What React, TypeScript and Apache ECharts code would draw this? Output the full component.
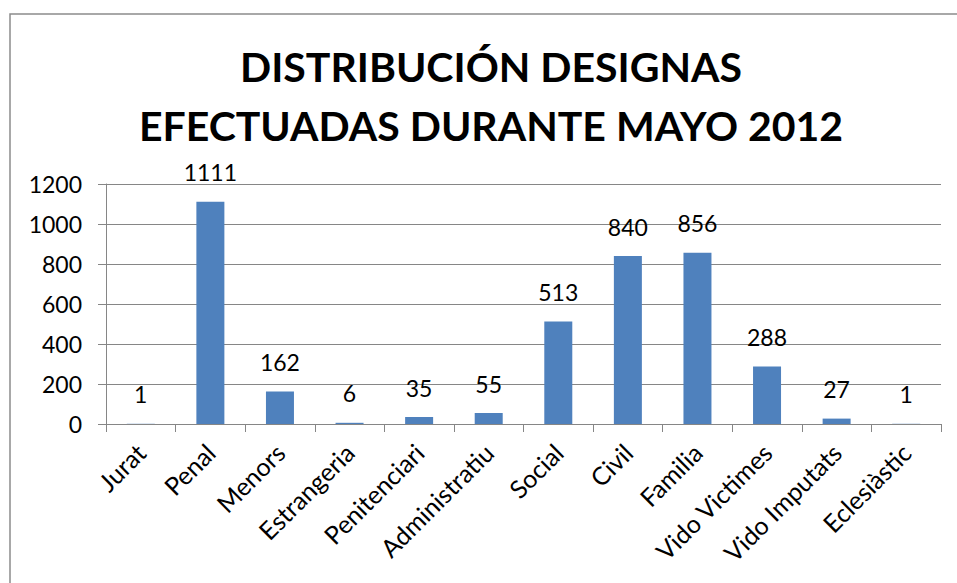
import React, { useEffect, useRef } from "react";
import * as echarts from "echarts";

const categories = [
  "Jurat", "Penal", "Menors", "Estrangeria", "Penitenciari", "Administratiu",
  "Social", "Civil", "Familia", "Vido Victimes", "Vido Imputats", "Eclesiàstic",
];
const values = [1, 1111, 162, 6, 35, 55, 513, 840, 856, 288, 27, 1];
const titleLines = ["DISTRIBUCIÓN DESIGNAS", "EFECTUADAS DURANTE MAYO 2012"];

const FONT = "Lato, 'Open Sans', sans-serif";

export default function App() {
  const ref = useRef<HTMLDivElement>(null);
  useEffect(() => {
    if (!ref.current) return;
    const chart = echarts.init(ref.current, undefined, { renderer: "svg" });
    chart.setOption({
      animation: false,
      backgroundColor: "#ffffff",
      title: {
        text: titleLines.join("\n"),
        left: 486,
        top: 32,
        textAlign: "center",
        textStyle: {
          fontFamily: FONT,
          fontSize: 41,
          fontWeight: "bold",
          color: "#000000",
          lineHeight: 59,
        },
      },
      graphic: [
        {
          type: "rect",
          shape: { x: 10, y: 14, width: 1000, height: 1000 },
          style: { fill: "none", stroke: "#8c8c8c", lineWidth: 1.5 },
          silent: true,
        },
      ],
      grid: { left: 106, right: 16, top: 184, bottom: 159, containLabel: false },
      xAxis: {
        type: "category",
        data: categories,
        axisLine: { show: true, lineStyle: { color: "#868686", width: 1 } },
        axisTick: { show: true, length: 8, lineStyle: { color: "#868686" } },
        axisLabel: {
          rotate: 45,
          interval: 0,
          margin: 24,
          fontFamily: FONT,
          fontSize: 25,
          color: "#000000",
        },
      },
      yAxis: {
        type: "value",
        min: 0,
        max: 1200,
        interval: 200,
        axisLine: { show: true, lineStyle: { color: "#868686", width: 1 } },
        axisTick: { show: true, length: 8, lineStyle: { color: "#868686" } },
        splitLine: { show: true, lineStyle: { color: "#868686", width: 1 } },
        axisLabel: {
          margin: 24,
          fontFamily: FONT,
          fontSize: 23,
          color: "#000000",
          formatter: (v: number) => String(v),
        },
      },
      series: [
        {
          type: "bar",
          data: values,
          barWidth: 28,
          itemStyle: { color: "#4F81BD" },
          label: {
            show: true,
            position: "top",
            distance: 18,
            fontFamily: FONT,
            fontSize: 23,
            color: "#000000",
          },
        },
      ],
    });
    return () => chart.dispose();
  }, []);
  return <div ref={ref} style={{ width: 957, height: 583, position: "absolute", left: 0, top: 0 }} />;
}
